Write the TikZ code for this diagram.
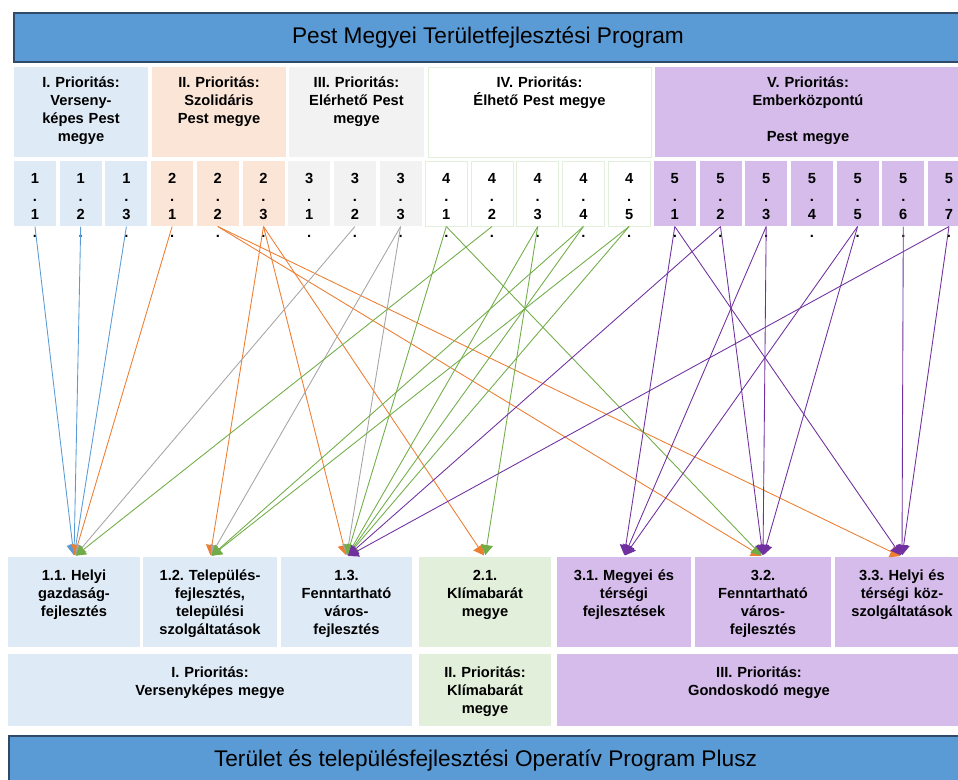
\documentclass[tikz,border=0pt]{standalone}
\usepackage{fontspec}
\setmainfont{Liberation Sans}
\usetikzlibrary{arrows.meta}
\frenchspacing
\definecolor{hdrblue}{HTML}{5B9BD5}
\definecolor{hdrline}{HTML}{2F4A68}
\definecolor{pblue}{HTML}{DEEBF7}
\definecolor{ppeach}{HTML}{FBE5D6}
\definecolor{pgray}{HTML}{F2F2F2}
\definecolor{pgreen}{HTML}{E2EFDA}
\definecolor{ppurple}{HTML}{D6BCEB}
\definecolor{lorange}{HTML}{ED7D31}
\definecolor{lgray}{HTML}{A5A5A5}
\definecolor{lgreen}{HTML}{70AD47}
\definecolor{lpurple}{HTML}{7030A0}

\begin{document}
\begin{tikzpicture}[x=0.75pt, y=-0.75pt, >={Triangle[length=7.5pt,width=9pt]},
    font=\fontsize{11}{13.5}\selectfont\bfseries,
    header/.style={draw=hdrline, line width=1.5pt, fill=hdrblue, anchor=north west,
        font=\fontsize{17}{20}\selectfont},
    prio/.style={anchor=north, inner sep=0pt, align=center, text height=15pt, text depth=52.5pt},
    numbox/.style={anchor=north, inner sep=0pt, align=center, text width=31.5pt,
        text height=16.5pt, text depth=32.25pt},
    goal/.style={anchor=north, inner sep=0pt, align=center, text height=17.25pt, text depth=50.25pt},
    pillar/.style={anchor=north, inner sep=0pt, align=center, text height=17.25pt, text depth=36.75pt},
    g1/.style={fill=pblue}, g2/.style={fill=ppeach}, g3/.style={fill=pgray},
    g4/.style={fill=white, draw=pgreen}, g5/.style={fill=ppurple},
    link/.style={->, line width=0.65pt, shorten >=1.5pt}]
    \useasboundingbox (0,0) rectangle (958,780);
    \clip (0,0) rectangle (958,780);
    \node[header, minimum width=711pt, minimum height=36.75pt] (pmtp) at (13,12) {Pest Megyei Területfejlesztési Program};
    \node[prio, g1, text width=100.5pt] (p1) at (81,67) {I. Prioritás:\\Verseny-\\képes Pest\\megye};
    \node[prio, g2, text width=100.5pt] (p2) at (219,67) {II. Prioritás:\\Szolidáris\\Pest megye};
    \node[prio, g3, text width=101.25pt] (p3) at (356.5,67) {III. Prioritás:\\Elérhető Pest\\megye};
    \node[prio, g4, text width=167.25pt] (p4) at (539.5,67) {IV. Prioritás:\\Élhető Pest megye};
    \node[prio, g5, text width=229.5pt] (p5) at (808,67) {V. Prioritás:\\Emberközpontú\\[13.5pt]Pest megye};
    \foreach \g/\k [count=\i from 0] in {1/1,1/2,1/3,2/1,2/2,2/3,3/1,3/2,3/3,4/1,4/2,4/3,4/4,4/5,5/1,5/2,5/3,5/4,5/5,5/6,5/7}
        \node[numbox, g\g] (n\g\k) at (35+45.7*\i,161) {\g\\.\\\k\\.};
    \node[goal, g1, text width=99pt] (b11) at (74,557) {1.1. Helyi\\gazdaság-\\fejlesztés};
    \node[goal, g1, text width=100.5pt] (b12) at (210,557) {1.2. Település-\\fejlesztés,\\települési\\szolgáltatások};
    \node[goal, g1, text width=98.25pt] (b13) at (346.5,557) {1.3.\\Fenntartható\\város-\\fejlesztés};
    \node[goal, fill=pgreen, text width=99pt] (b21) at (485,557) {2.1.\\Klímabarát\\megye};
    \node[goal, g5, text width=100.5pt] (b31) at (624,557) {3.1. Megyei és\\térségi\\fejlesztések};
    \node[goal, g5, text width=102pt] (b32) at (763,557) {3.2.\\Fenntartható\\város-\\fejlesztés};
    \node[goal, g5, text width=100.5pt] (b33) at (902,557) {3.3. Helyi és\\térségi köz-\\szolgáltatások};
    \node[pillar, g1, text width=303pt] (q1) at (210,654) {I. Prioritás:\\Versenyképes megye};
    \node[pillar, fill=pgreen, text width=99pt] (q2) at (485,654) {II. Prioritás:\\Klímabarát\\megye};
    \node[pillar, g5, text width=303pt] (q3) at (759,654) {III. Prioritás:\\Gondoskodó megye};
    \node[header, minimum width=714.75pt, minimum height=37.5pt] (topp) at (8,735) {Terület és településfejlesztési Operatív Program Plusz};
    \foreach \s/\t in {n11/b11,n12/b11,n13/b11}
        \draw[link, hdrblue] (\s.south) -- (\t.north);
    \foreach \s/\t in {n21/b11,n22/b32,n22/b33,n23/b12,n23/b13,n23/b21}
        \draw[link, lorange] (\s.south) -- (\t.north);
    \foreach \s/\t in {n32/b11,n33/b12,n33/b13}
        \draw[link, lgray] (\s.south) -- (\t.north);
    \foreach \s/\t in {n41/b13,n41/b32,n42/b11,n43/b13,n43/b21,n44/b12,n44/b13,n45/b12,n45/b13}
        \draw[link, lgreen] (\s.south) -- (\t.north);
    \foreach \s/\t in {n51/b31,n51/b33,n52/b13,n52/b32,n53/b31,n53/b32,n55/b31,n55/b32,n56/b33,n57/b13,n57/b33}
        \draw[link, lpurple] (\s.south) -- (\t.north);
\end{tikzpicture}
\end{document}
